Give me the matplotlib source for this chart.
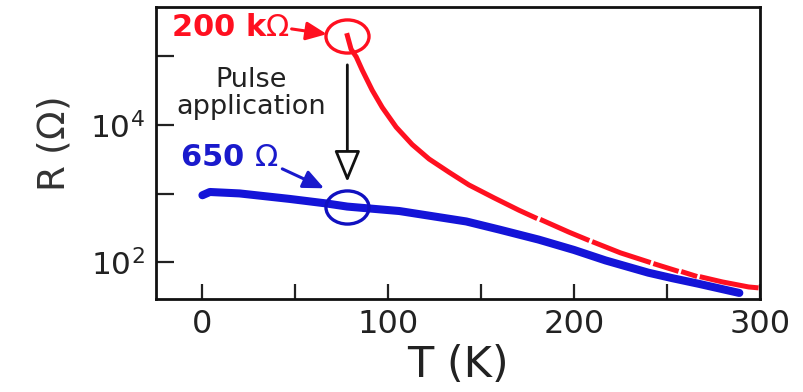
import numpy as np
import matplotlib
matplotlib.use("Agg")
import matplotlib.pyplot as plt
from matplotlib.path import Path
from matplotlib.transforms import Affine2D
from matplotlib.ticker import NullLocator

# high resistance state (before pulse), NaN = breaks in the trace
T_high = [78, 80, 82.8, 86, 91.4, 96.8, 104.3, 112.9, 122, 132.8, 143.5, 157, 170.4, 179, np.nan,
          183, 197.3, 207, np.nan, 211, 225, 240, np.nan, 244, 255, np.nan,
          259, 265, np.nan, 269, 280, 294, 298]
R_high = [2.0e5, 1.27e5, 9.8e4, 6.3e4, 3.2e4, 1.8e4, 9.3e3, 5.2e3, 3.2e3, 2.05e3, 1.34e3, 870, 575, 450, np.nan,
          410, 276, 215, np.nan, 195, 138, 102, np.nan, 94, 76, np.nan,
          72, 64, np.nan, 61, 52, 44, 43]

# low resistance state (after pulse)
T_low = [0, 4, 20, 47, 67, 78, 106, 142, 160, 181, 200, 217, 240, 253, 267, 289]
R_low = [950, 1060, 1010, 840, 720, 650, 560, 395, 300, 215, 152, 107, 71, 59, 49, 36]

T_pulse = 78
R_before = 2.0e5
R_after = 650

xticks = [0, 50, 100, 150, 200, 250, 300]
xticklabels = ['0', '', '100', '', '200', '', '300']
yticks = [1e2, 1e3, 1e4, 1e5]
yticklabels = ['$10^2$', '', '$10^4$', '']

red = '#ff1020'
blue = '#1414d8'

# flattened circle marker
ellipse = Path.unit_circle().transformed(Affine2D().scale(1.3, 1.0))

fig = plt.figure(figsize=(8.04, 3.92), dpi=100)
ax = fig.add_axes([0.194, 0.237, 0.751, 0.745])

ax.plot(T_low, R_low, color=blue, lw=5.8, solid_capstyle='round', zorder=3)
ax.plot(T_high, R_high, color=red, lw=3.6, zorder=4)

ax.plot([T_pulse], [R_before], marker=ellipse, ms=31, mfc='none', mec=red, mew=2.4, zorder=5)
ax.plot([T_pulse], [R_after], marker=ellipse, ms=31, mfc='none', mec='#1010c0', mew=2.4, zorder=5)

ax.set_yscale('log')
ax.set_xlim(-25, 300)
ax.set_ylim(29.3, 5.2e5)

ax.set_xticks(xticks)
ax.set_xticklabels(xticklabels)
ax.set_yticks(yticks)
ax.set_yticklabels(yticklabels)
ax.yaxis.set_minor_locator(NullLocator())
ax.tick_params(axis='x', direction='in', length=11, width=1.6, labelsize=23, pad=7, colors='#222222')
ax.tick_params(axis='y', direction='in', length=13, width=1.6, labelsize=22.5, pad=8, colors='#222222')
for s in ax.spines.values():
    s.set_linewidth(2.0)
    s.set_color('#111111')

ax.set_xlabel('T (K)', fontsize=31, color='#222222', labelpad=3)
ax.set_ylabel(r'R ($\Omega$)', fontsize=27, color='#333333')
ax.yaxis.set_label_coords(-0.138, 0.53)

# annotations
ax.text(47, 2.6e5, r'200 k$\Omega$', color=red, fontsize=22, fontweight='bold',
        ha='right', va='center')
ax.annotate('', xy=(67, 2.1e5), xytext=(48, 2.5e5),
            arrowprops=dict(arrowstyle='-|>,head_length=0.9,head_width=0.4',
                            color=red, lw=2.2, mutation_scale=14, shrinkA=0, shrinkB=0))

ax.text(41, 3.4e3, r'650 $\Omega$', color='#1a1acc', fontsize=22, fontweight='bold',
        ha='right', va='center')
ax.annotate('', xy=(65.5, 1.2e3), xytext=(43, 2.3e3),
            arrowprops=dict(arrowstyle='-|>,head_length=0.9,head_width=0.4',
                            color='#1a1acc', lw=2.2, mutation_scale=14, shrinkA=0, shrinkB=0))

ax.text(26, 2.9e4, 'Pulse\napplication', fontsize=19.5, color='#222222',
        ha='center', va='center', linespacing=1.05)
ax.annotate('', xy=(T_pulse, 1.48e3), xytext=(T_pulse, 7.5e4),
            arrowprops=dict(arrowstyle='-|>,head_length=0.97,head_width=0.4',
                            fc='white', ec='#111111', lw=2.0, mutation_scale=20,
                            shrinkA=0, shrinkB=0))

fig.savefig('out.png', dpi=100)
